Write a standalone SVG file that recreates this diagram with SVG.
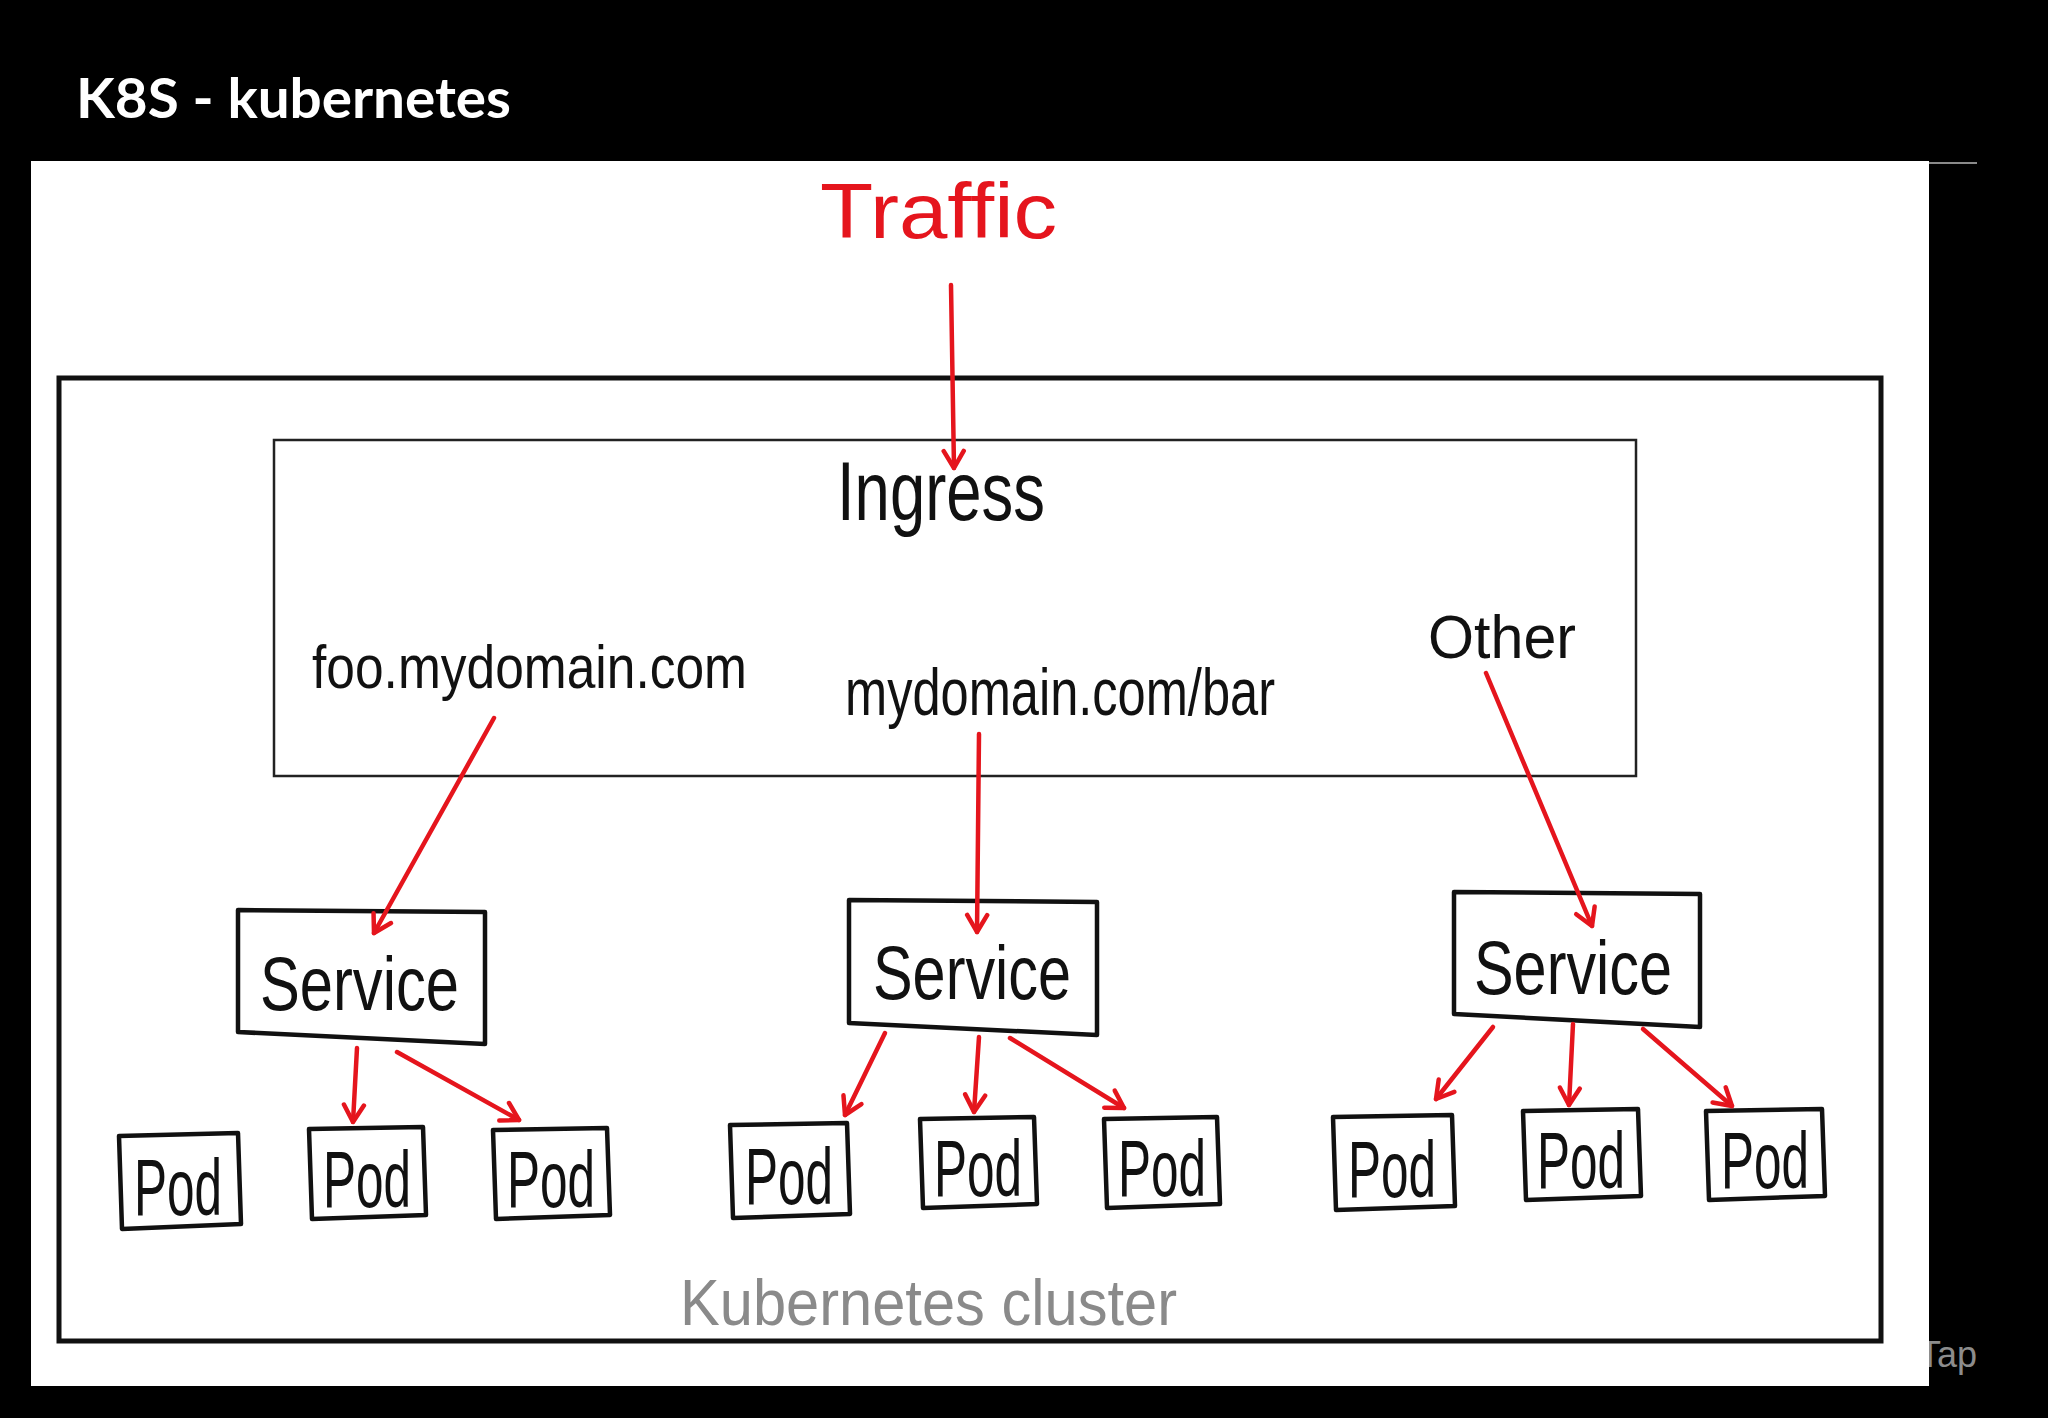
<svg xmlns="http://www.w3.org/2000/svg" width="2048" height="1418" viewBox="0 0 2048 1418">
<defs>
<style>
.hand{font-family:"Liberation Sans","DejaVu Sans",sans-serif;font-weight:normal}
.blk{fill:#111}
.box{fill:#fff;stroke:#111;stroke-width:4.5;stroke-linejoin:round}
.arr{fill:none;stroke:#e5151d;stroke-width:4.5;stroke-linecap:round;marker-end:url(#ah)}
</style>
<marker id="ah" viewBox="-20 -13 23 26" refX="0" refY="0" markerWidth="23" markerHeight="26" markerUnits="userSpaceOnUse" orient="auto">
<path d="M-17,-10 L0,0 L-17,10" fill="none" stroke="#e5151d" stroke-width="4.5" stroke-linecap="round" stroke-linejoin="round"/>
</marker>
</defs>
<rect x="0" y="0" width="2048" height="1418" fill="#000"/>
<text x="1977" y="1367" text-anchor="end" font-family="Liberation Sans, sans-serif" font-size="36" fill="#8c8c8c">Tap</text>
<line x1="1929" y1="163" x2="1977" y2="163" stroke="#8a8a8a" stroke-width="2"/>
<rect x="31" y="161" width="1898" height="1225" fill="#fff"/>
<text x="76" y="118" font-family="Lato, 'Liberation Sans', sans-serif" font-weight="bold" font-size="56" fill="#fff" textLength="435" lengthAdjust="spacingAndGlyphs">K8S - kubernetes</text>

<g id="cluster">
<rect x="59" y="378" width="1822" height="963" fill="none" stroke="#111" stroke-width="5"/>
<text class="hand" x="680" y="1325" font-size="64" fill="#8a8a8a" textLength="497" lengthAdjust="spacingAndGlyphs">Kubernetes cluster</text>
</g>

<g id="traffic">
<text class="hand" x="820" y="238" font-size="78" fill="#e5151d" textLength="237" lengthAdjust="spacingAndGlyphs">Traffic</text>
</g>

<g id="ingress">
<rect x="274" y="440" width="1362" height="336" fill="none" stroke="#222" stroke-width="2.5"/>
<text class="hand blk" x="837" y="520" font-size="84" textLength="208" lengthAdjust="spacingAndGlyphs">Ingress</text>
<text class="hand blk" x="312" y="688" font-size="62" textLength="435" lengthAdjust="spacingAndGlyphs">foo.mydomain.com</text>
<text class="hand blk" x="845" y="715" font-size="66" textLength="430" lengthAdjust="spacingAndGlyphs">mydomain.com/bar</text>
<text class="hand blk" x="1428" y="658" font-size="62" textLength="148" lengthAdjust="spacingAndGlyphs">Other</text>
</g>

<g id="service1">
<path class="box" d="M238,910 L485,912 L485,1044 L238,1032 Z"/>
<text class="hand blk" x="260" y="1010" font-size="76" textLength="199" lengthAdjust="spacingAndGlyphs">Service</text>
</g>
<g id="service2">
<path class="box" d="M849,900 L1097,902 L1097,1035 L849,1023 Z"/>
<text class="hand blk" x="873" y="999" font-size="76" textLength="198" lengthAdjust="spacingAndGlyphs">Service</text>
</g>
<g id="service3">
<path class="box" d="M1454,892 L1700,894 L1700,1027 L1454,1014 Z"/>
<text class="hand blk" x="1474" y="994" font-size="76" textLength="198" lengthAdjust="spacingAndGlyphs">Service</text>
</g>

<g id="pod1">
<path class="box" d="M119,1136 L238,1133 L241,1224 L122,1229 Z"/>
<text class="hand blk" x="134" y="1215" font-size="80" textLength="88" lengthAdjust="spacingAndGlyphs">Pod</text>
</g>
<g id="pod2">
<path class="box" d="M309,1129 L423,1127 L426,1215 L312,1219 Z"/>
<text class="hand blk" x="323" y="1207" font-size="80" textLength="88" lengthAdjust="spacingAndGlyphs">Pod</text>
</g>
<g id="pod3">
<path class="box" d="M493,1130 L607,1128 L610,1215 L496,1219 Z"/>
<text class="hand blk" x="507" y="1207" font-size="80" textLength="88" lengthAdjust="spacingAndGlyphs">Pod</text>
</g>
<g id="pod4">
<path class="box" d="M730,1125 L847,1123 L850,1214 L733,1218 Z"/>
<text class="hand blk" x="745" y="1204" font-size="80" textLength="88" lengthAdjust="spacingAndGlyphs">Pod</text>
</g>
<g id="pod5">
<path class="box" d="M920,1119 L1034,1117 L1037,1204 L923,1208 Z"/>
<text class="hand blk" x="934" y="1196" font-size="80" textLength="88" lengthAdjust="spacingAndGlyphs">Pod</text>
</g>
<g id="pod6">
<path class="box" d="M1104,1119 L1217,1117 L1220,1204 L1107,1208 Z"/>
<text class="hand blk" x="1118" y="1196" font-size="80" textLength="88" lengthAdjust="spacingAndGlyphs">Pod</text>
</g>
<g id="pod7">
<path class="box" d="M1333,1117 L1452,1115 L1455,1206 L1336,1210 Z"/>
<text class="hand blk" x="1348" y="1197" font-size="80" textLength="88" lengthAdjust="spacingAndGlyphs">Pod</text>
</g>
<g id="pod8">
<path class="box" d="M1523,1111 L1638,1109 L1641,1196 L1526,1200 Z"/>
<text class="hand blk" x="1537" y="1188" font-size="80" textLength="88" lengthAdjust="spacingAndGlyphs">Pod</text>
</g>
<g id="pod9">
<path class="box" d="M1706,1111 L1822,1109 L1825,1196 L1709,1200 Z"/>
<text class="hand blk" x="1721" y="1188" font-size="80" textLength="88" lengthAdjust="spacingAndGlyphs">Pod</text>
</g>

<g id="connectors">
<line class="arr" x1="951" y1="285" x2="954" y2="468"/>
<line class="arr" x1="494" y1="718" x2="374" y2="933"/>
<line class="arr" x1="979" y1="734" x2="977" y2="932"/>
<line class="arr" x1="1486" y1="673" x2="1592" y2="926"/>
<line class="arr" x1="357" y1="1048" x2="353" y2="1122"/>
<line class="arr" x1="397" y1="1052" x2="519" y2="1120"/>
<line class="arr" x1="885" y1="1033" x2="845" y2="1115"/>
<line class="arr" x1="979" y1="1037" x2="974" y2="1112"/>
<line class="arr" x1="1010" y1="1038" x2="1124" y2="1108"/>
<line class="arr" x1="1493" y1="1027" x2="1436" y2="1099"/>
<line class="arr" x1="1573" y1="1024" x2="1569" y2="1105"/>
<line class="arr" x1="1643" y1="1029" x2="1732" y2="1106"/>
</g>
</svg>
